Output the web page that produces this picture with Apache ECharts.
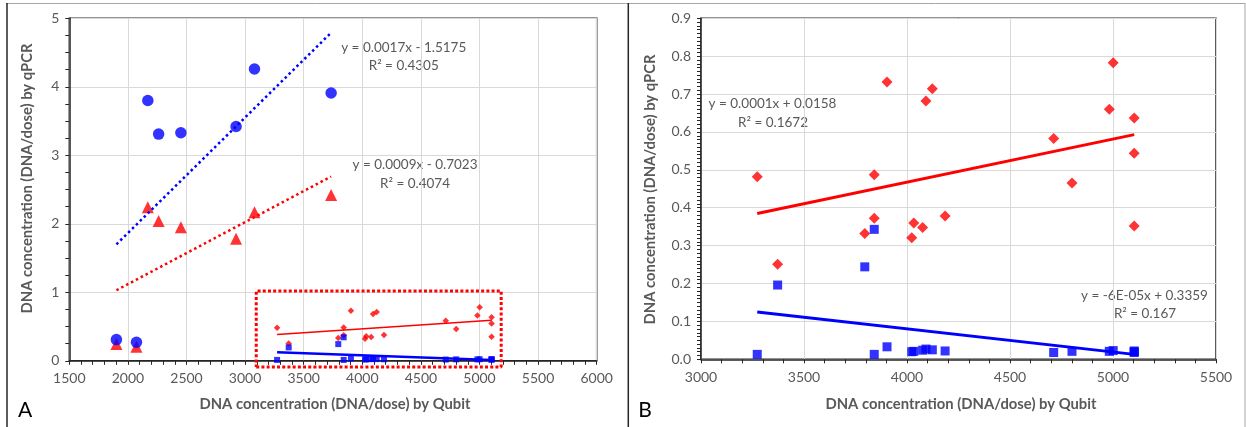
<!DOCTYPE html>
<html>
<head>
<meta charset="utf-8">
<script src="https://cdn.jsdelivr.net/npm/echarts@6/dist/echarts.min.js"></script>
<style>
html,body{margin:0;padding:0;background:#fff;}
#c{width:1246px;height:427px;}
</style>
</head>
<body>
<div id="c"></div>
<script>
// ---------- Panel A: low-concentration samples ----------
const qubitA      = [1902, 2073, 2170, 2262, 2452, 2923, 3080, 3734];
const qpcrCircleA = [0.31, 0.27, 3.80, 3.31, 3.33, 3.42, 4.26, 3.91];
const qpcrTriA    = [0.245, 0.205, 2.24, 2.04, 1.95, 1.78, 2.17, 2.42];

// ---------- Panel B (also shown small in A) ----------
const qubitB   = [3273, 3372, 3795, 3841, 3841, 3903, 4023, 4033, 4076, 4092, 4123, 4185, 4712, 4801, 4982, 5001, 5103, 5103, 5103];
const qpcrRedB = [0.482, 0.251, 0.332, 0.372, 0.487, 0.732, 0.321, 0.360, 0.348, 0.682, 0.714, 0.378, 0.583, 0.465, 0.660, 0.783, 0.637, 0.544, 0.352];
const qpcrBlueB= [0.013, 0.196, 0.244, 0.343, 0.013, 0.033, 0.020, 0.021, 0.024, 0.027, 0.025, 0.022, 0.018, 0.021, 0.021, 0.023, 0.020, 0.022, 0.018];

// trend line end points
const trendBlueA = [[1902, 1.70], [3734, 4.79]];
const trendRedA  = [[1902, 1.03], [3734, 2.69]];
const trendRedB  = [[3273, 0.385], [5103, 0.593]];
const trendBlueB = [[3273, 0.125], [5103, 0.013]];

// dotted highlight box in A
const boxX = [3095, 5185];
const boxY = [-0.09, 1.02];

// tick settings
const xTicksA = [1500, 6000, 500];
const yTicksA = [0, 5, 1];
const xTicksB = [3000, 5500, 500];
const yTicksB = [0, 0.9, 0.1];

// texts
const axisTitleX = 'DNA concentration (DNA/dose) by Qubit';
const axisTitleY = 'DNA concentration (DNA/dose) by qPCR';
const eqBlueA = ['y = 0.0017x - 1.5175', 'R² = 0.4305'];
const eqRedA  = ['y = 0.0009x - 0.7023', 'R² = 0.4074'];
const eqRedB  = ['y = 0.0001x + 0.0158', 'R² = 0.1672'];
const eqBlueB = ['y = -6E-05x + 0.3359', 'R² = 0.167'];
const panelLabels = ['A', 'B'];

const zip = (xs, ys) => xs.map((x, i) => [x, ys[i]]);
const FONT = 'Lato, "Open Sans", sans-serif';
const GREY = '#595959';
const BLUE = '#0000ff';
const RED = '#ff0000';
const AXC = '#262626';
const TICK_FS = 14;
const EQ_FONT = '13.5px ' + FONT;
const TITLE_FONT = 'bold 14.8px ' + FONT;

function xAxisCfg(g, t, minorN) {
  return {
    type: 'value', gridIndex: g, min: t[0], max: t[1], interval: t[2],
    axisLine: {show: true, onZero: false, lineStyle: {color: AXC, width: 1.5}},
    axisTick: {show: true, length: 4, lineStyle: {color: AXC}},
    minorTick: {show: true, splitNumber: minorN, length: 4, lineStyle: {color: AXC}},
    splitLine: {show: true, lineStyle: {color: '#d9d9d9', width: 1}},
    axisLabel: {color: GREY, fontSize: TICK_FS, fontFamily: FONT, margin: 11, formatter: v => String(v)},
  };
}
function yAxisCfg(g, t, minorN, fmt) {
  return {
    type: 'value', gridIndex: g, min: t[0], max: t[1], interval: t[2],
    axisLine: {show: true, onZero: false, lineStyle: {color: AXC, width: 1.5}},
    axisTick: {show: true, length: 4, lineStyle: {color: AXC}},
    minorTick: {show: true, splitNumber: minorN, length: 4, lineStyle: {color: AXC}},
    splitLine: {show: true, lineStyle: {color: '#d9d9d9', width: 1}},
    axisLabel: {color: GREY, fontSize: TICK_FS, fontFamily: FONT, margin: 10, formatter: fmt},
  };
}

function txt(x, y, text, opts) {
  return Object.assign({
    type: 'text', x: x, y: y, silent: true,
    style: Object.assign({
      text: text, fill: GREY, font: EQ_FONT,
      textAlign: 'center', textVerticalAlign: 'middle',
      align: 'center', verticalAlign: 'middle'
    }, opts && opts.style || {})
  }, opts && opts.el || {});
}

const chart = echarts.init(document.getElementById('c'), null, {renderer: 'canvas'});

const option = {
  animation: false,
  backgroundColor: '#fff',
  grid: [
    {left: 69.3, top: 18.3, width: 527.4, height: 342.5, show: true, borderColor: AXC, borderWidth: 1.5, containLabel: false},
    {left: 701, top: 18.3, width: 515, height: 341, show: true, borderColor: AXC, borderWidth: 1.5, containLabel: false}
  ],
  xAxis: [xAxisCfg(0, xTicksA, 5), xAxisCfg(1, xTicksB, 5)],
  yAxis: [yAxisCfg(0, yTicksA, 4, v => String(v)), yAxisCfg(1, yTicksB, 10, v => v.toFixed(1))],
  series: [
    // ---- panel A ----
    {type: 'line', xAxisIndex: 0, yAxisIndex: 0, data: trendRedA, symbol: 'none', silent: true,
     lineStyle: {color: RED, width: 2.5, type: [2.5, 3]}},
    {type: 'line', xAxisIndex: 0, yAxisIndex: 0, data: trendBlueA, symbol: 'none', silent: true,
     lineStyle: {color: BLUE, width: 2.5, type: [2.5, 3]}},
    {type: 'scatter', xAxisIndex: 0, yAxisIndex: 0, data: zip(qubitA, qpcrTriA), symbol: 'triangle', symbolSize: 12,
     itemStyle: {color: RED}},
    {type: 'scatter', xAxisIndex: 0, yAxisIndex: 0, data: zip(qubitA, qpcrCircleA), symbol: 'circle', symbolSize: 11.5,
     itemStyle: {color: BLUE}},
    {type: 'scatter', xAxisIndex: 0, yAxisIndex: 0, data: zip(qubitB, qpcrRedB), symbol: 'diamond', symbolSize: 6.5,
     itemStyle: {color: RED}},
    {type: 'line', xAxisIndex: 0, yAxisIndex: 0, data: trendRedB, symbol: 'none', silent: true,
     lineStyle: {color: RED, width: 1.5}},
    {type: 'scatter', xAxisIndex: 0, yAxisIndex: 0, data: zip(qubitB, qpcrBlueB), symbol: 'rect', symbolSize: 6,
     itemStyle: {color: BLUE}},
    {type: 'line', xAxisIndex: 0, yAxisIndex: 0, data: trendBlueB, symbol: 'none', silent: true,
     lineStyle: {color: BLUE, width: 2.5}},
    {type: 'line', xAxisIndex: 0, yAxisIndex: 0, clip: false, symbol: 'none', silent: true,
     data: [[boxX[0], boxY[0]], [boxX[1], boxY[0]], [boxX[1], boxY[1]], [boxX[0], boxY[1]], [boxX[0], boxY[0]]],
     lineStyle: {color: RED, width: 3, type: [3, 2.2]}},
    // ---- panel B ----
    {type: 'scatter', xAxisIndex: 1, yAxisIndex: 1, data: zip(qubitB, qpcrRedB), symbol: 'diamond', symbolSize: 11,
     itemStyle: {color: RED}},
    {type: 'line', xAxisIndex: 1, yAxisIndex: 1, data: trendRedB, symbol: 'none', silent: true,
     lineStyle: {color: RED, width: 3}},
    {type: 'scatter', xAxisIndex: 1, yAxisIndex: 1, data: zip(qubitB, qpcrBlueB), symbol: 'rect', symbolSize: 9,
     itemStyle: {color: BLUE}},
    {type: 'line', xAxisIndex: 1, yAxisIndex: 1, data: trendBlueB, symbol: 'none', silent: true,
     lineStyle: {color: BLUE, width: 3}}
  ],
  graphic: [
    // panel frames
    {type: 'line', silent: true, shape: {x1: 6, y1: 3.5, x2: 1245, y2: 3.5}, style: {stroke: '#a6a6a6', lineWidth: 1}},
    {type: 'line', silent: true, shape: {x1: 7, y1: 3, x2: 7, y2: 427}, style: {stroke: '#262626', lineWidth: 1.5}},
    {type: 'line', silent: true, shape: {x1: 628.3, y1: 3, x2: 628.3, y2: 427}, style: {stroke: '#262626', lineWidth: 1.5}},
    {type: 'line', silent: true, shape: {x1: 1245, y1: 3, x2: 1245, y2: 427}, style: {stroke: '#a6a6a6', lineWidth: 1}},
    // axis titles
    txt(335, 404, axisTitleX, {style: {font: TITLE_FONT}}),
    txt(961, 404, axisTitleX, {style: {font: TITLE_FONT}}),
    txt(27, 178.5, axisTitleY, {style: {font: TITLE_FONT}, el: {rotation: Math.PI / 2}}),
    txt(650, 189.5, axisTitleY, {style: {font: TITLE_FONT}, el: {rotation: Math.PI / 2}}),
    // equations
    txt(403.7, 48, eqBlueA[0]), txt(403.7, 66, eqBlueA[1]),
    txt(415, 165, eqRedA[0]), txt(415, 184, eqRedA[1]),
    txt(772.5, 104, eqRedB[0]), txt(773, 123, eqRedB[1]),
    txt(1144.5, 296, eqBlueB[0]), txt(1145, 314, eqBlueB[1]),
    // panel letters
    txt(25, 410, panelLabels[0], {style: {font: '21px ' + FONT, fill: '#000'}}),
    txt(645, 410, panelLabels[1], {style: {font: '21px ' + FONT, fill: '#000'}})
  ]
};
chart.setOption(option);
</script>
</body>
</html>
